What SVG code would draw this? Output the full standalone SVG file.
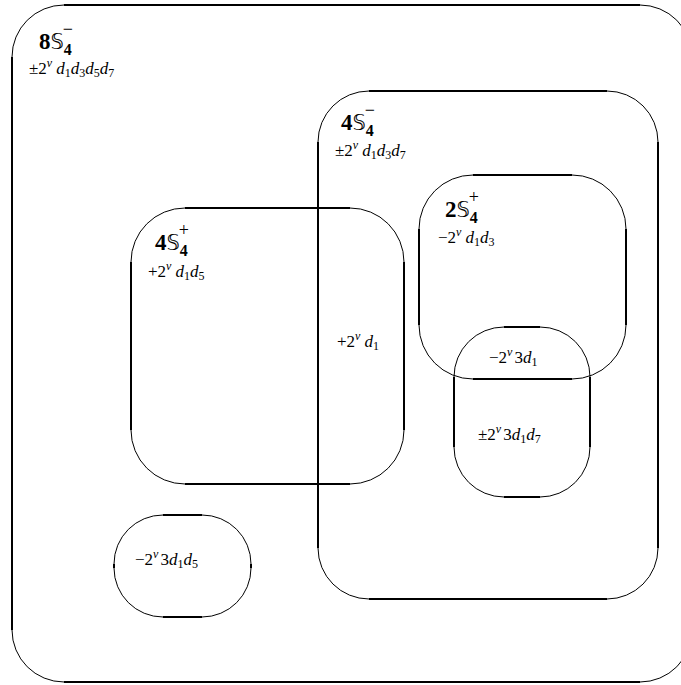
<svg xmlns="http://www.w3.org/2000/svg" width="681" height="685" viewBox="0 0 681 685">
  <style>
    .edge { fill: none; stroke: #000; stroke-width: 2; }
    .arc { fill: none; stroke: #000; stroke-width: 1; }
    text { font-family: "Liberation Serif", "Times New Roman", serif; fill: #000; }
    .title { font-size: 23px; }
    .b { font-weight: bold; }
    .ds { font-family: "DejaVu Sans", sans-serif; font-size: 21px; font-weight: normal; }
    .bs { font-weight: bold; font-size: 16px; }
    .pm { font-size: 18px; }
    .lab { font-size: 17px; }
    .it { font-style: italic; }
    .sm { font-size: 12px; }
    .smi { font-size: 12px; font-style: italic; }
  </style>
  <rect width="681" height="685" fill="#fff"/>

  <!-- outer set: 8 S4- -->
  <g id="set-8S4minus">
    <path class="edge" d="M64 5 H640 M692 57 V630 M640 682 H64 M12 630 V57"/>
    <path class="arc" d="M12 57 A52 52 0 0 1 64 5 M640 5 A52 52 0 0 1 692 57 M692 630 A52 52 0 0 1 640 682 M64 682 A52 52 0 0 1 12 630"/>
    <text class="title" x="39" y="49"><tspan class="b">8</tspan><tspan class="ds">𝕊</tspan><tspan class="bs" dy="6">4</tspan><tspan class="pm" dx="-9" dy="-20">−</tspan></text>
    <text class="lab" x="29" y="74">±2<tspan class="smi" dy="-7">ν</tspan><tspan class="it" dx="4" dy="7">d</tspan><tspan class="sm" dy="3">1</tspan><tspan class="it" dy="-3">d</tspan><tspan class="sm" dy="3">3</tspan><tspan class="it" dy="-3">d</tspan><tspan class="sm" dy="3">5</tspan><tspan class="it" dy="-3">d</tspan><tspan class="sm" dy="3">7</tspan></text>
  </g>

  <!-- 4 S4- -->
  <g id="set-4S4minus">
    <path class="edge" d="M369 91 H607 M658 142 V548 M607 599 H369 M318 548 V142"/>
    <path class="arc" d="M318 142 A51 51 0 0 1 369 91 M607 91 A51 51 0 0 1 658 142 M658 548 A51 51 0 0 1 607 599 M369 599 A51 51 0 0 1 318 548"/>
    <text class="title" x="341" y="130"><tspan class="b">4</tspan><tspan class="ds">𝕊</tspan><tspan class="bs" dy="6">4</tspan><tspan class="pm" dx="-9" dy="-20">−</tspan></text>
    <text class="lab" x="335" y="156">±2<tspan class="smi" dy="-7">ν</tspan><tspan class="it" dx="4" dy="7">d</tspan><tspan class="sm" dy="3">1</tspan><tspan class="it" dy="-3">d</tspan><tspan class="sm" dy="3">3</tspan><tspan class="it" dy="-3">d</tspan><tspan class="sm" dy="3">7</tspan></text>
  </g>

  <!-- 4 S4+ -->
  <g id="set-4S4plus">
    <path class="edge" d="M185 208 H350 M404 262 V430 M350 484 H185 M131 430 V262"/>
    <path class="arc" d="M131 262 A54 54 0 0 1 185 208 M350 208 A54 54 0 0 1 404 262 M404 430 A54 54 0 0 1 350 484 M185 484 A54 54 0 0 1 131 430"/>
    <text class="title" x="155" y="250"><tspan class="b">4</tspan><tspan class="ds">𝕊</tspan><tspan class="bs" dy="6">4</tspan><tspan class="pm" dx="-9" dy="-20">+</tspan></text>
    <text class="lab" x="148" y="277">+2<tspan class="smi" dy="-7">ν</tspan><tspan class="it" dx="4" dy="7">d</tspan><tspan class="sm" dy="3">1</tspan><tspan class="it" dy="-3">d</tspan><tspan class="sm" dy="3">5</tspan></text>
  </g>

  <!-- 2 S4+ -->
  <g id="set-2S4plus">
    <path class="edge" d="M473 175 H572 M626 229 V325 M572 379 H473 M419 325 V229"/>
    <path class="arc" d="M419 229 A54 54 0 0 1 473 175 M572 175 A54 54 0 0 1 626 229 M626 325 A54 54 0 0 1 572 379 M473 379 A54 54 0 0 1 419 325"/>
    <text class="title" x="445" y="217"><tspan class="b">2</tspan><tspan class="ds">𝕊</tspan><tspan class="bs" dy="6">4</tspan><tspan class="pm" dx="-9" dy="-20">+</tspan></text>
    <text class="lab" x="438" y="243">−2<tspan class="smi" dy="-7">ν</tspan><tspan class="it" dx="4" dy="7">d</tspan><tspan class="sm" dy="3">1</tspan><tspan class="it" dy="-3">d</tspan><tspan class="sm" dy="3">3</tspan></text>
  </g>

  <!-- ±2^ν 3 d1 d7 -->
  <g id="set-pm3d1d7">
    <path class="edge" d="M504 327 H540 M590 377 V447 M540 497 H504 M454 447 V377"/>
    <path class="arc" d="M454 377 A50 50 0 0 1 504 327 M540 327 A50 50 0 0 1 590 377 M590 447 A50 50 0 0 1 540 497 M504 497 A50 50 0 0 1 454 447"/>
    <text class="lab" x="478" y="440">±2<tspan class="smi" dy="-7">ν</tspan><tspan dx="2" dy="7">3</tspan><tspan class="it">d</tspan><tspan class="sm" dy="3">1</tspan><tspan class="it" dy="-3">d</tspan><tspan class="sm" dy="3">7</tspan></text>
  </g>

  <!-- −2^ν 3 d1 d5 -->
  <g id="set-m3d1d5">
    <path class="edge" d="M163 515 H202 M251 564 V568 M202 617 H163 M114 568 V564"/>
    <path class="arc" d="M114 564 A49 49 0 0 1 163 515 M202 515 A49 49 0 0 1 251 564 M251 568 A49 49 0 0 1 202 617 M163 617 A49 49 0 0 1 114 568"/>
    <text class="lab" x="135" y="565">−2<tspan class="smi" dy="-7">ν</tspan><tspan dx="2" dy="7">3</tspan><tspan class="it">d</tspan><tspan class="sm" dy="3">1</tspan><tspan class="it" dy="-3">d</tspan><tspan class="sm" dy="3">5</tspan></text>
  </g>

  <!-- region labels in overlaps -->
  <g id="region-labels">
    <text class="lab" x="337" y="347">+2<tspan class="smi" dy="-7">ν</tspan><tspan class="it" dx="4" dy="7">d</tspan><tspan class="sm" dy="3">1</tspan></text>
    <text class="lab" x="489" y="363">−2<tspan class="smi" dy="-7">ν</tspan><tspan dx="2" dy="7">3</tspan><tspan class="it">d</tspan><tspan class="sm" dy="3">1</tspan></text>
  </g>
</svg>
